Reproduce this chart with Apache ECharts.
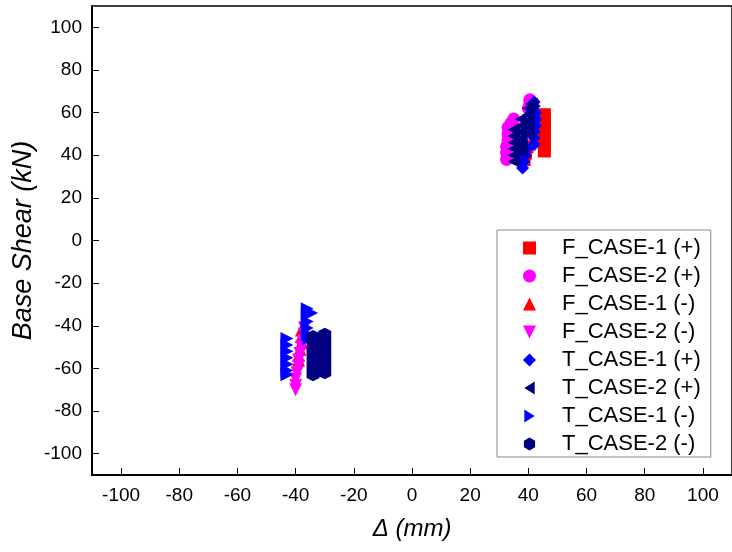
<html>
<head>
<meta charset="utf-8">
<title></title>
<script src="https://cdn.jsdelivr.net/npm/echarts@6/dist/echarts.min.js"></script>
</head>
<body style="margin:0">
<div id="main" style="width:732px;height:552px;"></div>
<script>
// axis ticks
var xTicks = [-100, -80, -60, -40, -20, 0, 20, 40, 60, 80, 100];
var yTicks = [-100, -80, -60, -40, -20, 0, 20, 40, 60, 80, 100];

// series names
var names = ['F_CASE-1 (+)', 'F_CASE-2 (+)', 'F_CASE-1 (-)', 'F_CASE-2 (-)',
             'T_CASE-1 (+)', 'T_CASE-2 (+)', 'T_CASE-1 (-)', 'T_CASE-2 (-)'];

// [displacement mm, base shear kN]
var fCase1Pos = [[45.5,42],[45.5,45],[45.5,48],[45.5,51],[45.5,54],[45.5,57],[45.5,59],[38.5,38],[39,41],[39.5,44]];
var fCase2Pos = [[32.5,38],[32.5,41],[32.5,44],[33,47],[33,50],[33,53],[34,55],[35,57],[40,62],[40.5,65],[40.5,66]];
var fCase1Neg = [[-38,-42],[-37,-44],[-38,-45],[-38,-48],[-38.5,-51],[-39,-54],[-39,-56]];
var fCase2Neg = [[-37,-41],[-37,-44],[-37.5,-47],[-38,-50],[-38.5,-53],[-39,-56],[-39,-59],[-39.5,-62],[-40,-65],[-40,-68],[-40,-70]];
var tCase1Pos = [[38,34],[38.5,37],[39,40],[39.5,43],[42,45],[42,48],[42,51],[42.5,54],[42.5,57],[42.5,60],[42,63],[42,65],[41,60]];
var tCase2Pos = [[35,37],[35,40],[35,43],[35,46],[35,49],[35,52],[37.5,42],[37.5,45],[37.5,48],[37.5,51],[37.5,54],[37.5,57],[40,50],[40,53],[40,56],[40,59],[40,62],[41,64]];
var tCase1Neg = [[-43,-46],[-43,-49],[-43,-52],[-43,-55],[-43,-58],[-43,-61],[-43,-63],[-36,-32],[-36,-35],[-36,-38],[-36,-41],[-36,-44],[-35.5,-46],[-34.5,-34]];
var tCase2Neg = [[-34,-45],[-34,-48],[-34,-51],[-34,-54],[-34,-57],[-34,-60],[-34,-63],[-30,-44],[-30,-47],[-30,-50],[-30,-53],[-30,-56],[-30,-59],[-30,-62]];

var triUp = 'path://M50,0 L100,100 L0,100 Z';
var triDown = 'path://M0,0 L100,0 L50,100 Z';
var triLeft = 'path://M0,50 L80,0 L80,100 Z';
var triRight = 'path://M80,50 L0,0 L0,100 Z';
var hexagon = 'path://M50,0 L93,25 L93,75 L50,100 L7,75 L7,25 Z';

window.onload = function () {
    var myChart = echarts.init(document.getElementById('main'));
    var font = 'Liberation Sans, Arial, sans-serif';

    function s(name, data, symbol, color) {
        return {
            name: name,
            type: 'scatter',
            data: data,
            symbol: symbol,
            symbolSize: 13,
            itemStyle: {color: color, opacity: 1},
            animation: false
        };
    }

    var option = {
        grid: {left: 92, right: 0, top: 6, bottom: 77, outerBoundsMode: 'none',
               show: true, borderColor: '#000', borderWidth: 1.5},
        legend: {
            orient: 'vertical',
            left: 497, top: 230,
            padding: [7, 10, 2, 26],
            itemGap: 6,
            itemWidth: 13, itemHeight: 13,
            borderColor: '#888', borderWidth: 1,
            textStyle: {fontFamily: font, fontSize: 22, lineHeight: 22, color: '#000', padding: [0, 0, 0, 21]},
            data: names
        },
        xAxis: {
            type: 'value', min: -110, max: 110, interval: 20,
            name: 'Δ (mm)', nameLocation: 'middle', nameGap: 42, nameMoveOverlap: false,
            nameTextStyle: {fontFamily: font, fontSize: 24, fontStyle: 'italic', color: '#000'},
            axisLine: {onZero: false, lineStyle: {color: '#000', width: 2}},
            axisTick: {inside: true, length: 7, lineStyle: {color: '#000'},
                       customValues: xTicks},
            minorTick: {show: true, splitNumber: 2, length: 4, lineStyle: {color: '#000'}},
            axisLabel: {fontFamily: font, fontSize: 19, color: '#000', margin: 11,
                        customValues: xTicks},
            splitLine: {show: false}
        },
        yAxis: {
            type: 'value', min: -110, max: 110, interval: 20,
            name: 'Base Shear (kN)', nameLocation: 'middle', nameGap: 55, nameMoveOverlap: false,
            nameTextStyle: {fontFamily: font, fontSize: 27, fontStyle: 'italic', color: '#000'},
            axisLine: {onZero: false, lineStyle: {color: '#000', width: 2}},
            axisTick: {inside: true, length: 7, lineStyle: {color: '#000'},
                       customValues: yTicks},
            minorTick: {show: true, splitNumber: 2, length: 4, lineStyle: {color: '#000'}},
            axisLabel: {fontFamily: font, fontSize: 19, color: '#000', margin: 10,
                        customValues: yTicks},
            splitLine: {show: false}
        },
        series: [
            s(names[0], fCase1Pos, 'rect', '#ff0000'),
            s(names[1], fCase2Pos, 'circle', '#ff00ff'),
            s(names[2], fCase1Neg, triUp, '#ff0000'),
            s(names[3], fCase2Neg, triDown, '#ff00ff'),
            s(names[4], tCase1Pos, 'diamond', '#0000ff'),
            s(names[5], tCase2Pos, triLeft, '#000080'),
            s(names[6], tCase1Neg, triRight, '#0000ff'),
            s(names[7], tCase2Neg, hexagon, '#000080')
        ]
    };

    myChart.setOption(option);
}
</script>
</body>
</html>
